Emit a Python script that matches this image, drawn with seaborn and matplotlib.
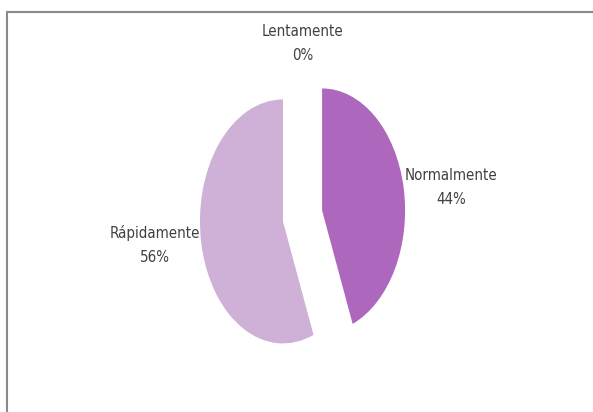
"""
Gráfico de pizza: velocidade (Lentamente / Normalmente / Rápidamente).
"""

import matplotlib
matplotlib.use('Agg')

import matplotlib.pyplot as plt
import numpy as np
import seaborn as sns
from matplotlib import font_manager
from matplotlib.patches import Rectangle

# Dados
categorias = ['Lentamente', 'Normalmente', 'Rápidamente']
valores = [0, 44, 56]
cores = ['#8E4FA0', '#AD67BD', '#CFB0D6']

sns.set_theme(style='white')

# fonte estreita parecida com a original
disponiveis = {f.name for f in font_manager.fontManager.ttflist}
if 'Liberation Sans Narrow' in disponiveis:
    plt.rcParams['font.family'] = ['Liberation Sans Narrow', 'DejaVu Sans']
    tam, esticar = 12.7, 'normal'
else:
    plt.rcParams['font.family'] = ['DejaVu Sans']
    tam, esticar = 10.8, 'condensed'

fig = plt.figure(figsize=(5.93, 4.12), dpi=100)
ax = fig.add_axes([0, 0, 1, 1])

wedges, textos = ax.pie(
    valores,
    labels=[f'{c}\n{v:.0f}%' for c, v in zip(categorias, valores)],
    colors=cores,
    startangle=90,
    counterclock=False,
    explode=[0.24] * len(valores),
    labeldistance=1.01,
    wedgeprops={'linewidth': 0},
    textprops={'fontsize': tam, 'fontstretch': esticar, 'color': '#404040',
               'linespacing': 1.75},
)

# alinhamento dos rótulos como no Excel
for w, t in zip(wedges, textos):
    ang = np.deg2rad((w.theta1 + w.theta2) / 2)
    t.set_multialignment('center')
    if abs(np.cos(ang)) < 0.3:
        t.set_ha('center')
        t.set_va('bottom' if np.sin(ang) > 0 else 'top')
    else:
        t.set_ha('left' if np.cos(ang) > 0 else 'right')
        t.set_va('center')

# pizza esticada na vertical (aspect livre)
ax.set_aspect('auto')
ax.set_xlim(-3.645, 3.50)
ax.set_ylim(-1.607, 1.770)
ax.axis('off')

# moldura cinza (corta à direita e embaixo)
fig.patches.append(Rectangle((6.5 / 593, -0.1), 1.2, 1.1 - 12.5 / 412,
                             transform=fig.transFigure, fill=False,
                             edgecolor='#8a8a8a', linewidth=1.5))

fig.savefig('out.png', dpi=100)
